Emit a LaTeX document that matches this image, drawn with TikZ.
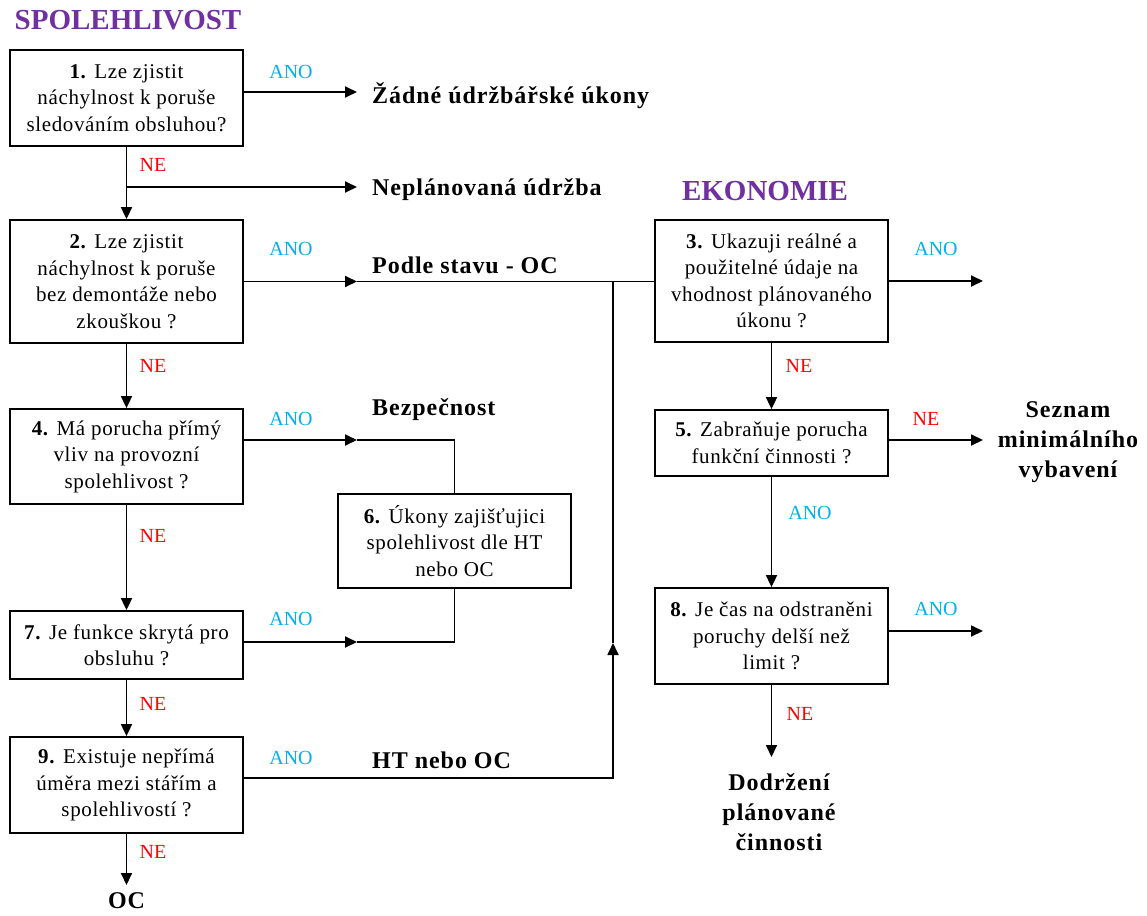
\documentclass[tikz,border=0pt]{standalone}
\usepackage{fontspec}
\setmainfont{Liberation Serif}
\newfontfamily\boxfont[LetterSpace=3]{Liberation Serif}
\newfontfamily\labfont[LetterSpace=4]{Liberation Serif}
\usetikzlibrary{arrows.meta}
\definecolor{titlepurple}{HTML}{7030A0}
\definecolor{yescol}{HTML}{00B0F0}
\definecolor{nocol}{HTML}{FF0000}

\begin{document}
\begin{tikzpicture}[x=1pt,y=-1pt,
  qbox/.style={draw, line width=1.8pt, minimum width=233pt, inner sep=0pt, align=center,
    font=\boxfont\fontsize{21}{26.5}\selectfont},
  ln/.style={line width=1.8pt},
  arr/.style={ln, -{Triangle[length=12pt,width=11pt]}},
  yes/.style={text=yescol, inner sep=0pt, font=\fontsize{20}{24}\selectfont},
  no/.style={text=nocol, inner sep=0pt, font=\fontsize{20}{24}\selectfont},
  outcome/.style={font=\labfont\bfseries\fontsize{24}{30}\selectfont, align=center, inner sep=0pt},
  heading/.style={text=titlepurple, inner sep=0pt, font=\bfseries\fontsize{29}{34}\selectfont}]
\useasboundingbox (0,0) rectangle (1147,915);

% headings
\node[heading] (hs) at (128,20) {SPOLEHLIVOST};
\node[heading] (he) at (765,191) {EKONOMIE};

% question boxes, left column
\node[qbox, minimum height=96pt]  (b1) at (126.5,98)    {\textbf{1.} Lze zjistit\\náchylnost k poruše\\sledováním obsluhou?};
\node[qbox, minimum height=123pt] (b2) at (126.5,281.5) {\textbf{2.} Lze zjistit\\náchylnost k poruše\\bez demontáže nebo\\zkouškou ?};
\node[qbox, minimum height=95pt]  (b4) at (126.5,456.5) {\textbf{4.} Má porucha přímý\\vliv na provozní\\spolehlivost ?};
\node[qbox, minimum height=68pt]  (b7) at (126.5,645)   {\textbf{7.} Je funkce skrytá pro\\obsluhu ?};
\node[qbox, minimum height=96pt]  (b9) at (126.5,785)   {\textbf{9.} Existuje nepřímá\\úměra mezi stářím a\\spolehlivostí ?};

% middle box
\node[qbox, minimum height=94pt]  (b6) at (454.5,541)   {\textbf{6.} Úkony zajišťujici\\spolehlivost dle HT\\nebo OC};

% question boxes, right column
\node[qbox, minimum height=122pt] (b3) at (771.5,281)   {\textbf{3.} Ukazuji reálné a\\použitelné údaje na\\vhodnost plánovaného\\úkonu ?};
\node[qbox, minimum height=66pt]  (b5) at (771.5,443)   {\textbf{5.} Zabraňuje porucha\\funkční činnosti ?};
\node[qbox, minimum height=96pt]  (b8) at (771.5,636)   {\textbf{8.} Je čas na odstraněni\\poruchy delší než\\limit ?};

% outcomes
\node[outcome, anchor=west] (o1) at (372,96)  {Žádné údržbářské úkony};
\node[outcome, anchor=west] (o2) at (372,190) {Neplánovaná údržba};
\node[outcome, anchor=west] (o3) at (372,265) {Podle stavu - OC};
\node[outcome, anchor=west] (o4) at (372,410) {Bezpečnost};
\node[outcome, anchor=west] (o5) at (372,760) {HT nebo OC};
\node[outcome] (o6) at (126.5,901) {OC};
\node[outcome] (o7) at (1068,442) {Seznam\\minimálního\\vybavení};
\node[outcome] (o8) at (779,812) {Dodržení\\plánované\\činnosti};

% connector points
\coordinate (e1) at (357,92);
\coordinate (j1) at (126.5,187);
\coordinate (e2) at (357,187);
\coordinate (m2) at (357,281.5);
\coordinate (m4) at (357,440);
\coordinate (c4) at (454.5,440);
\coordinate (m7) at (357,642);
\coordinate (c7) at (454.5,642);
\coordinate (c9) at (613,778);
\coordinate (m9) at (613,643);
\coordinate (t9) at (613,281.5);
\coordinate (e9) at (126.5,885);
\coordinate (e3) at (983,281);
\coordinate (e5) at (983,440);
\coordinate (e8) at (983,631);
\coordinate (f8) at (771.5,757);

% left column
\draw[arr] (b1.east |- e1) -- (e1);
\draw[arr] (b1.south) -- (b2.north);
\draw[arr] (j1) -- (e2);
\draw[arr] (b2.east |- m2) -- (m2);
\draw[ln]  (m2) -- (b3.west |- m2);
\draw[arr] (b2.south) -- (b4.north);
\draw[arr] (b4.east |- m4) -- (m4);
\draw[ln]  (m4) -- (c4) -- (b6.north);
\draw[arr] (b4.south) -- (b7.north);
\draw[arr] (b7.east |- m7) -- (m7);
\draw[ln]  (m7) -- (c7) -- (b6.south);
\draw[arr] (b7.south) -- (b9.north);
\draw[arr] (b9.east |- c9) -- (c9) -- (m9);
\draw[ln]  (m9) -- (t9);
\draw[arr] (b9.south) -- (e9);

% right column
\draw[arr] (b3.east |- e3) -- (e3);
\draw[arr] (b3.south) -- (b5.north);
\draw[arr] (b5.east |- e5) -- (e5);
\draw[arr] (b5.south) -- (b8.north);
\draw[arr] (b8.east |- e8) -- (e8);
\draw[arr] (b8.south) -- (f8);

% answer labels
\node[yes] (y1) at (291,72)  {ANO};
\node[no]  (n1) at (153,165) {NE};
\node[yes] (y2) at (291,249) {ANO};
\node[no]  (n2) at (153,366) {NE};
\node[yes] (y4) at (291,419) {ANO};
\node[no]  (n4) at (153,536) {NE};
\node[yes] (y7) at (291,619) {ANO};
\node[no]  (n7) at (153,704) {NE};
\node[yes] (y9) at (291,758) {ANO};
\node[no]  (n9) at (153,852) {NE};
\node[yes] (y3) at (936,249) {ANO};
\node[no]  (n3) at (799,366) {NE};
\node[no]  (n5) at (926,419) {NE};
\node[yes] (y5) at (810,513) {ANO};
\node[yes] (y8) at (936,609) {ANO};
\node[no]  (n8) at (800,714) {NE};
\end{tikzpicture}
\end{document}
